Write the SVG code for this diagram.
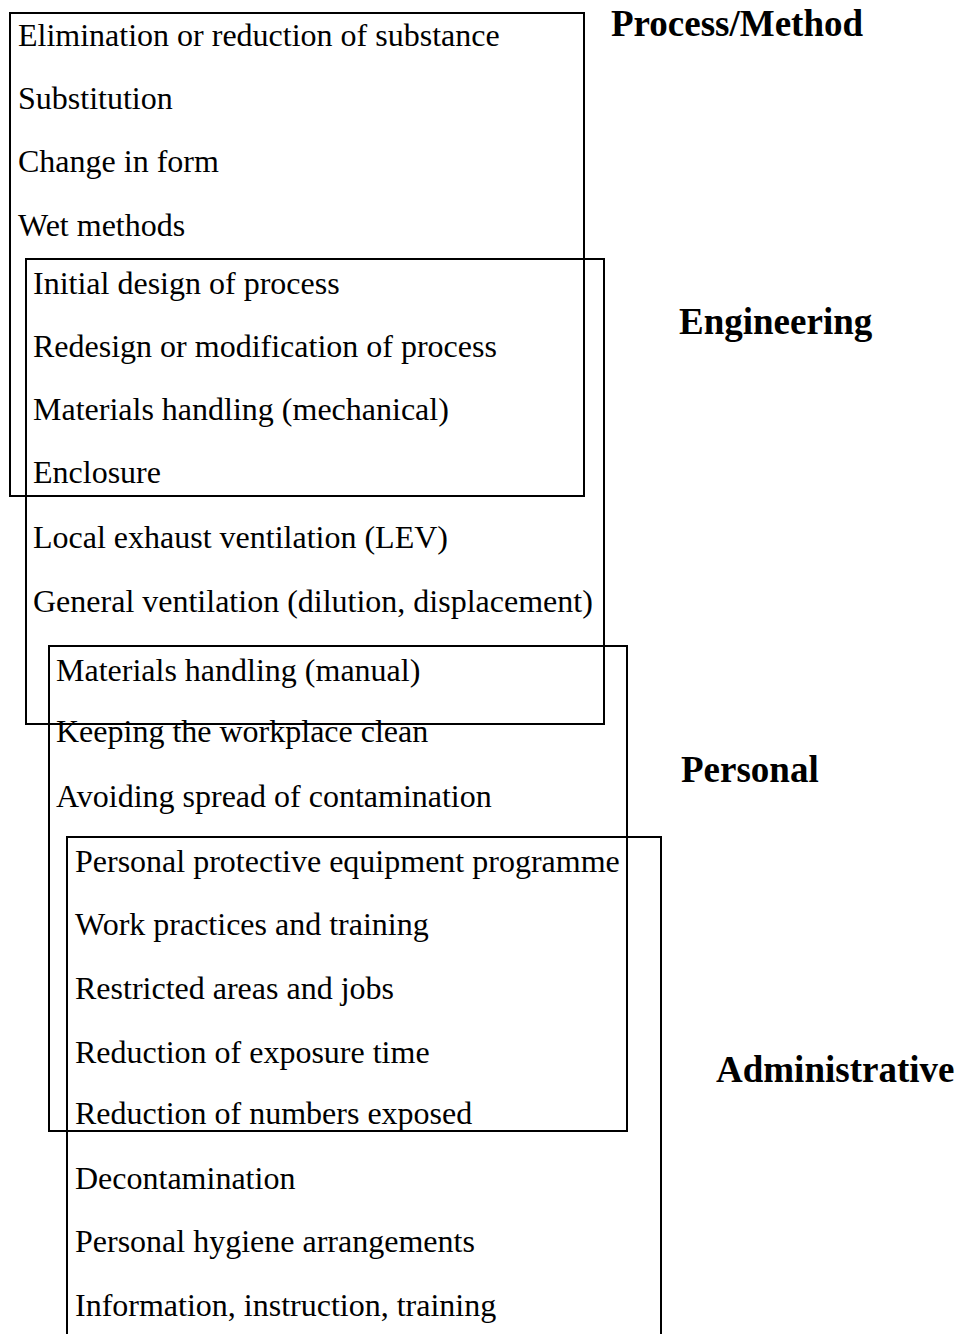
<svg xmlns="http://www.w3.org/2000/svg" width="957" height="1334" viewBox="0 0 957 1334">
<style>
.box{fill:none;stroke:#000;stroke-width:2}
.t{font-family:"Liberation Serif","Times New Roman",serif;font-size:32px;fill:#000}
.h{font-family:"Liberation Serif","Times New Roman",serif;font-size:37px;font-weight:bold;fill:#000}
</style>
<rect width="957" height="1334" fill="#fff"/>
<g id="process">
<rect class="box" x="10" y="13" width="574" height="483"/>
<text class="t" x="18" y="46">Elimination or reduction of substance</text>
<text class="t" x="18" y="109">Substitution</text>
<text class="t" x="18" y="172">Change in form</text>
<text class="t" x="18" y="236">Wet methods</text>
<text class="h" x="611" y="36">Process/Method</text>
</g>
<g id="engineering">
<rect class="box" x="26" y="259" width="578" height="465"/>
<text class="t" x="33" y="294">Initial design of process</text>
<text class="t" x="33" y="357">Redesign or modification of process</text>
<text class="t" x="33" y="420">Materials handling (mechanical)</text>
<text class="t" x="33" y="483">Enclosure</text>
<text class="t" x="33" y="548">Local exhaust ventilation (LEV)</text>
<text class="t" x="33" y="612">General ventilation (dilution, displacement)</text>
<text class="h" x="679" y="334">Engineering</text>
</g>
<g id="personal">
<rect class="box" x="49" y="646" width="578" height="485"/>
<text class="t" x="56" y="681">Materials handling (manual)</text>
<text class="t" x="56" y="742">Keeping the workplace clean</text>
<text class="t" x="56" y="807">Avoiding spread of contamination</text>
<text class="h" x="681" y="782">Personal</text>
</g>
<g id="administrative">
<path class="box" d="M67,1340 V837 H661 V1340"/>
<text class="t" x="75" y="872">Personal protective equipment programme</text>
<text class="t" x="75" y="935">Work practices and training</text>
<text class="t" x="75" y="999">Restricted areas and jobs</text>
<text class="t" x="75" y="1063">Reduction of exposure time</text>
<text class="t" x="75" y="1124">Reduction of numbers exposed</text>
<text class="t" x="75" y="1189">Decontamination</text>
<text class="t" x="75" y="1252">Personal hygiene arrangements</text>
<text class="t" x="75" y="1316">Information, instruction, training</text>
<text class="h" x="716" y="1082">Administrative</text>
</g>
<g id="connectors"/>
</svg>
